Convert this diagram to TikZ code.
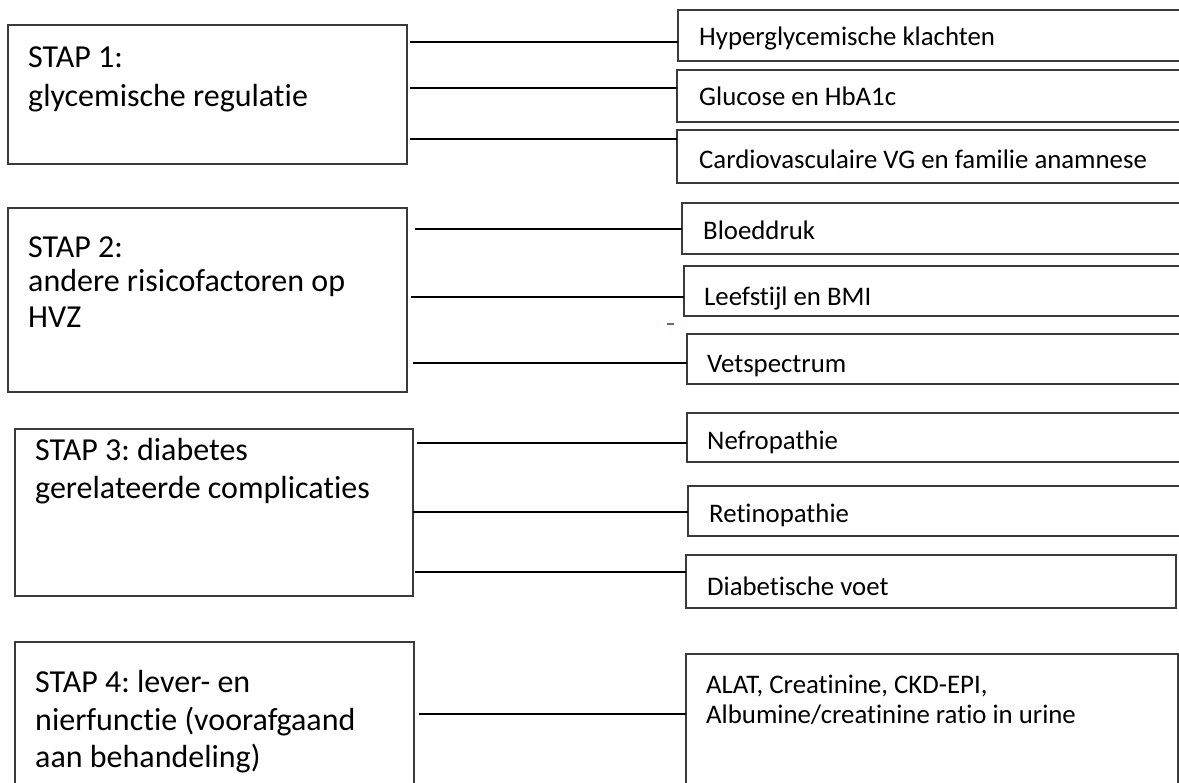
\documentclass[tikz,border=0pt]{standalone}
\usepackage{fontspec}
\setmainfont{Carlito}[Ligatures={NoCommon}]
\definecolor{boxline}{HTML}{3A3A3A}
\definecolor{dashblue}{HTML}{4472C4}
\frenchspacing
\begin{document}
\begin{tikzpicture}[x=1pt,y=-1pt,
  stagebox/.style={draw=boxline,line width=1.3pt,rectangle,anchor=north west,inner sep=0pt,outer sep=0pt},
  itembox/.style={draw=boxline,line width=1.3pt,rectangle,anchor=north west,inner sep=0pt,outer sep=0pt},
  bigtext/.style={anchor=base west,inner sep=0pt,font=\fontsize{32}{38}\selectfont},
  smalltext/.style={anchor=base west,inner sep=0pt,font=\fontsize{26.8}{31}\selectfont},
  conn/.style={draw=black,line width=2pt}]
\clip (0,0) rectangle (1179,783);
\fill[white] (0,0) rectangle (1179,783);
% stage boxes
\node[stagebox,minimum width=399pt,minimum height=139pt] (s1) at (8,25) {};
\node[stagebox,minimum width=399pt,minimum height=184pt] (s2) at (8,208) {};
\node[stagebox,minimum width=398pt,minimum height=167pt] (s3) at (15,429) {};
\node[stagebox,minimum width=399pt,minimum height=170pt] (s4) at (15,642) {};
% stage texts
\node[bigtext] (t11) at (28,68) {STAP 1:};
\node[bigtext] (t12) at (28,107) {glycemische regulatie};
\node[bigtext] (t21) at (28,258) {STAP 2:};
\node[bigtext] (t22) at (28,292) {andere risicofactoren op};
\node[bigtext] (t23) at (28,328) {HVZ};
\node[bigtext] (t31) at (35,461) {STAP 3: diabetes};
\node[bigtext] (t32) at (35,499) {gerelateerde complicaties};
\node[bigtext] (t41) at (35,692) {STAP 4: lever- en};
\node[bigtext] (t42) at (35,730) {nierfunctie (voorafgaand};
\node[bigtext] (t43) at (35,767) {aan behandeling)};
% item boxes
\node[itembox,minimum width=510pt,minimum height=51pt] (r11) at (678,10) {};
\node[itembox,minimum width=510pt,minimum height=52pt] (r12) at (677,70) {};
\node[itembox,minimum width=510pt,minimum height=53pt] (r13) at (677,130) {};
\node[itembox,minimum width=505pt,minimum height=51pt] (r21) at (682,203) {};
\node[itembox,minimum width=505pt,minimum height=50pt] (r22) at (684,266) {};
\node[itembox,minimum width=505pt,minimum height=50pt] (r23) at (687,334) {};
\node[itembox,minimum width=505pt,minimum height=49pt] (r31) at (687,413) {};
\node[itembox,minimum width=505pt,minimum height=50pt] (r32) at (688,486) {};
\node[itembox,minimum width=490pt,minimum height=53pt] (r33) at (686,555) {};
\node[itembox,minimum width=492pt,minimum height=150pt] (r41) at (686,654) {};
% item texts
\node[smalltext] (i11) at (699,46) {Hyperglycemische klachten};
\node[smalltext] (i12) at (699,106) {Glucose en HbA1c};
\node[smalltext] (i13) at (699,169) {Cardiovasculaire VG en familie anamnese};
\node[smalltext] (i21) at (703,240) {Bloeddruk};
\node[smalltext] (i22) at (704,306) {Leefstijl en BMI};
\node[smalltext] (i23) at (707,373) {Vetspectrum};
\node[smalltext] (i31) at (707,450) {Nefropathie};
\node[smalltext] (i32) at (709,523) {Retinopathie};
\node[smalltext] (i33) at (707,595) {Diabetische voet};
\node[smalltext] (i41) at (706,693) {ALAT, Creatinine, CKD-EPI,};
\node[smalltext] (i42) at (706,723) {Albumine/creatinine ratio in urine};
% connector levels
\coordinate (y11) at (0,42);
\coordinate (y12) at (0,88);
\coordinate (y13) at (0,139);
\coordinate (y21) at (0,229);
\coordinate (y22) at (0,297);
\coordinate (y23) at (0,363);
\coordinate (y31) at (0,443);
\coordinate (y32) at (0,512);
\coordinate (y33) at (0,572);
\coordinate (y41) at (0,714);
% connectors
\draw[conn] ([xshift=3pt]s1.east |- y11) -- (r11.west |- y11);
\draw[conn] ([xshift=3pt]s1.east |- y12) -- (r12.west |- y12);
\draw[conn] ([xshift=3pt]s1.east |- y13) -- (r13.west |- y13);
\draw[conn] ([xshift=8pt]s2.east |- y21) -- (r21.west |- y21);
\draw[conn] ([xshift=4pt]s2.east |- y22) -- (r22.west |- y22);
\draw[conn] ([xshift=6pt]s2.east |- y23) -- (r23.west |- y23);
\draw[conn] ([xshift=4pt]s3.east |- y31) -- (r31.west |- y31);
\draw[conn] (s3.east |- y32) -- (r32.west |- y32);
\draw[conn] ([xshift=2pt]s3.east |- y33) -- (r33.west |- y33);
\draw[conn] ([xshift=5pt]s4.east |- y41) -- (r41.west |- y41);
% small blue dash
\draw[dashblue,line width=2pt] (667,324) -- (674,324);
\end{tikzpicture}
\end{document}
